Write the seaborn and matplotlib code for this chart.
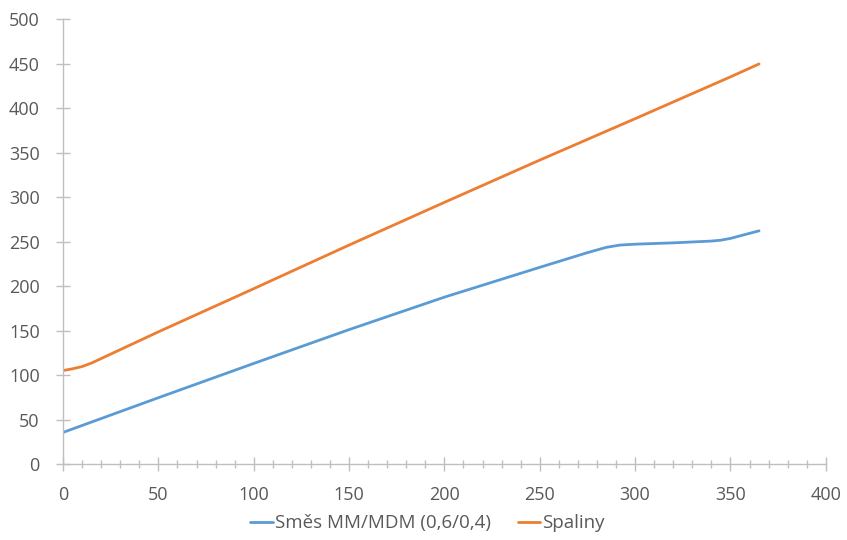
import matplotlib
matplotlib.use("Agg")
import matplotlib.pyplot as plt
import seaborn as sns
import pandas as pd
from matplotlib.ticker import MultipleLocator

blue_x = [0, 50, 100, 150, 200, 250, 275, 285, 292, 300, 320, 340, 345, 350, 357, 365]
blue_y = [35.5, 74.5, 113, 151, 187.5, 221, 237.5, 243.5, 246, 247, 248.5, 250.5, 251.5, 253.5, 257.5, 262]
orange_x = [0, 5, 10, 15, 20, 25, 50, 100, 150, 200, 250, 300, 350, 365]
orange_y = [105, 107, 109.5, 113.5, 118.5, 123.5, 148.5, 197, 246, 294, 341.5, 388, 435, 449.5]
series_names = ["Směs MM/MDM (0,6/0,4)", "Spaliny"]
colors = ["#5B9BD5", "#ED7D31"]

df = pd.concat([
    pd.DataFrame({"x": blue_x, "y": blue_y, "s": series_names[0]}),
    pd.DataFrame({"x": orange_x, "y": orange_y, "s": series_names[1]}),
])

sns.set_style("white")
plt.rcParams["font.family"] = ["Open Sans", "DejaVu Sans"]

fig = plt.figure(figsize=(8.47, 5.40), dpi=100)
ax = fig.add_axes([0.0744, 0.1407, 0.9006, 0.8241])
sns.lineplot(data=df, x="x", y="y", hue="s", palette=colors, ax=ax,
             linewidth=2.0, sort=False, estimator=None, legend=True)

ax.set_xlim(0, 400)
ax.set_ylim(0, 500)
ax.xaxis.set_major_locator(MultipleLocator(50))
ax.xaxis.set_minor_locator(MultipleLocator(10))
ax.yaxis.set_major_locator(MultipleLocator(50))
ax.set_xlabel("")
ax.set_ylabel("")

for side in ["top", "right"]:
    ax.spines[side].set_visible(False)
for side in ["left", "bottom"]:
    ax.spines[side].set_color("#BFBFBF")
    ax.spines[side].set_linewidth(1.0)

ax.tick_params(axis="x", which="major", bottom=True, direction="inout", length=10, width=1,
               color="#BFBFBF", labelsize=13, labelcolor="#595959", pad=11)
ax.tick_params(axis="x", which="minor", bottom=True, direction="inout", length=6, width=1,
               color="#BFBFBF")
ax.tick_params(axis="y", which="major", left=True, direction="inout", length=9.5, width=1,
               color="#BFBFBF", labelsize=13, labelcolor="#595959", pad=12)

ax.legend(loc="center", bbox_to_anchor=(0.478, -0.133), ncol=2, frameon=False,
          handlelength=1.2, handletextpad=0.1, columnspacing=1.45,
          fontsize=13.5, labelcolor="#595959", title=None)

fig.savefig("out.png", dpi=100)
